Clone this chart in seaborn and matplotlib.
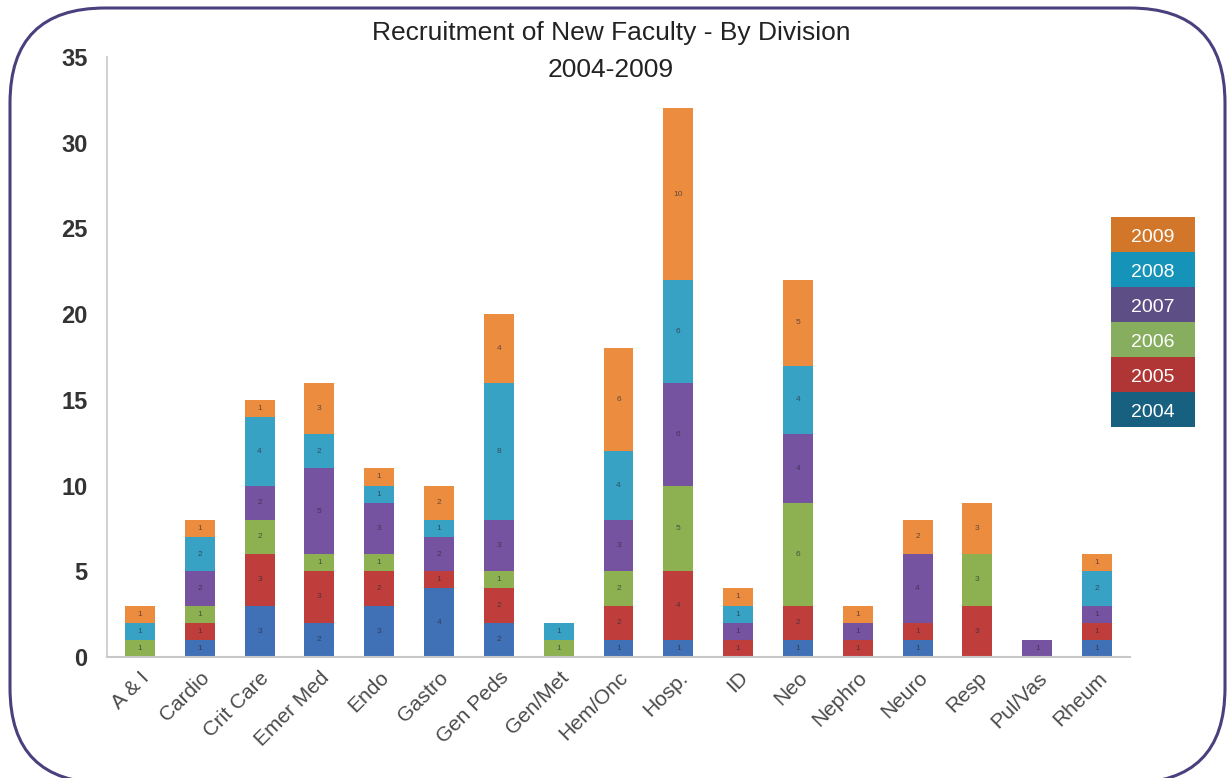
import matplotlib
matplotlib.use("Agg")
import matplotlib.pyplot as plt
from matplotlib.patches import FancyBboxPatch, Rectangle
import seaborn as sns
import numpy as np

categories = ["A & I", "Cardio", "Crit Care", "Emer Med", "Endo", "Gastro", "Gen Peds",
              "Gen/Met", "Hem/Onc", "Hosp.", "ID", "Neo", "Nephro", "Neuro", "Resp",
              "Pul/Vas", "Rheum"]
years = ["2004", "2005", "2006", "2007", "2008", "2009"]
y2004 = [0, 1, 3, 2, 3, 4, 2, 0, 1, 1, 0, 1, 0, 1, 0, 0, 1]
y2005 = [0, 1, 3, 3, 2, 1, 2, 0, 2, 4, 1, 2, 1, 1, 3, 0, 1]
y2006 = [1, 1, 2, 1, 1, 0, 1, 1, 2, 5, 0, 6, 0, 0, 3, 0, 0]
y2007 = [0, 2, 2, 5, 3, 2, 3, 0, 3, 6, 1, 4, 1, 4, 0, 1, 1]
y2008 = [1, 2, 4, 2, 1, 1, 8, 1, 4, 6, 1, 4, 0, 0, 0, 0, 2]
y2009 = [1, 1, 1, 3, 1, 2, 4, 0, 6, 10, 1, 5, 1, 2, 3, 0, 1]
series = [y2004, y2005, y2006, y2007, y2008, y2009]

bar_colors = ["#4070B5", "#BF3E3C", "#8DB150", "#7653A0", "#38A2C4", "#EC8C3E"]
legend_colors = ["#17607F", "#B03636", "#86AE5E", "#5E4E86", "#1593B8", "#D2772A"]
ytick_vals = [0, 5, 10, 15, 20, 25, 30, 35]

sns.set_style("white")
plt.rcParams["font.family"] = ["Liberation Sans", "DejaVu Sans"]

W, H = 1227, 778
fig = plt.figure(figsize=(W / 100, H / 100), dpi=100)
ax = fig.add_axes([107 / W, 1 - 657 / H, (1130 - 107) / W, 600 / H])

bottom = np.zeros(len(categories))
for vals, col in zip(series, bar_colors):
    sns.barplot(x=categories, y=vals, bottom=bottom, color=col, width=0.5,
                ax=ax, saturation=1, linewidth=0, edgecolor=col)
    for i, v in enumerate(vals):
        if v > 0:
            ax.text(i, bottom[i] + v / 2, str(v), ha="center", va="center",
                    fontsize=6, color="#2a2a3a", alpha=0.7)
    bottom = bottom + np.array(vals)

ax.set_xlim(-0.55, len(categories) - 0.45)
ax.set_ylim(0, 35)
ax.set_yticks(ytick_vals)
ax.set_yticklabels([str(v) for v in ytick_vals], fontsize=17, fontweight="bold",
                   color="#333333")
ax.tick_params(axis="y", length=0, pad=14)
ax.tick_params(axis="x", length=0, pad=8)
ax.set_xticks(range(len(categories)))
ax.set_xticklabels(categories, rotation=45, ha="right", rotation_mode="anchor",
                   fontsize=15, color="#4a4a4a")
for s in ["top", "right"]:
    ax.spines[s].set_visible(False)
ax.spines["left"].set_color("#c8c8c8")
ax.spines["bottom"].set_color("#c8c8c8")
ax.spines["left"].set_linewidth(1.2)
ax.spines["bottom"].set_linewidth(1.5)

fig.text(0.498, 1 - 33 / H, "Recruitment of New Faculty - By Division", ha="center", va="center",
         fontsize=19, color="#222222")
fig.text(0.498, 1 - 70 / H, "2004-2009", ha="center", va="center", fontsize=19, color="#222222")

# legend boxes
lx, lw = 1111 / W, 84 / W
top_px, h_px = 217, 35
for k, (yr, col) in enumerate(zip(years[::-1], legend_colors[::-1])):
    y0 = 1 - (top_px + (k + 1) * h_px) / H
    fig.add_artist(Rectangle((lx, y0), lw, h_px / H, transform=fig.transFigure,
                             facecolor=col, edgecolor="none"))
    fig.text(lx + lw / 2, y0 + h_px / H * 0.42, yr, ha="center", va="center",
             fontsize=14, color="white")

# rounded frame (in inches)
x0, x1, ytop, ybot, R = 10, 1225, 8, 783, 95
frame = FancyBboxPatch((x0 / 100, (H - ybot) / 100), (x1 - x0) / 100, (ybot - ytop) / 100,
                       boxstyle=f"round,pad=0,rounding_size={R / 100}",
                       transform=fig.dpi_scale_trans, facecolor="none",
                       edgecolor="#4B3F7E", linewidth=2.2)
fig.add_artist(frame)

fig.savefig("out.png", dpi=100)
